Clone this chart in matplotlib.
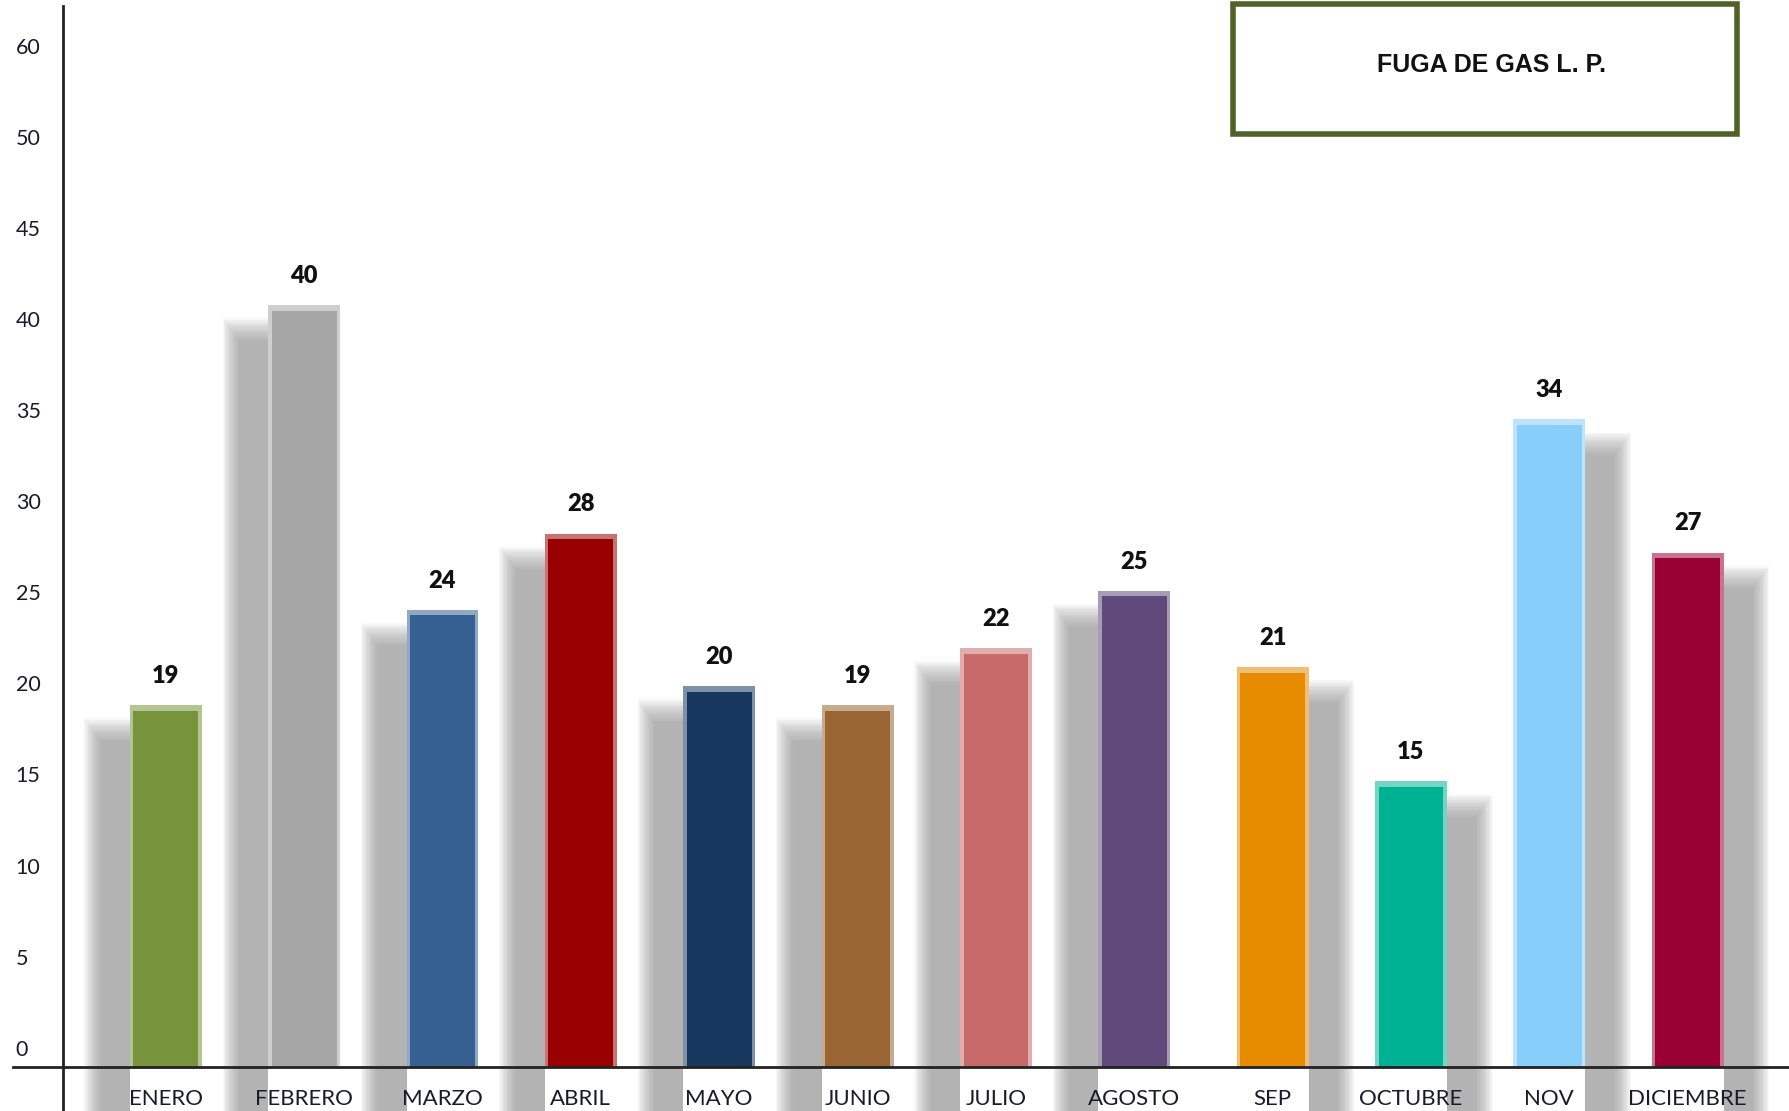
import numpy as np
import matplotlib
matplotlib.use("Agg")
import matplotlib.pyplot as plt
from matplotlib.lines import Line2D
from matplotlib.patches import Rectangle
from matplotlib.colors import to_rgb

# datos
meses = ["ENERO", "FEBRERO", "MARZO", "ABRIL", "MAYO", "JUNIO", "JULIO",
         "AGOSTO", "SEP", "OCTUBRE", "NOV", "DICIEMBRE"]
casos = [19, 40, 24, 28, 20, 19, 22, 25, 21, 15, 34, 27]
colores = ["#77933c", "#a6a6a6", "#366092", "#990000", "#17375e", "#996633",
           "#c96a6a", "#604a7b", "#e68a00", "#00b294", "#87cefa", "#990033"]
etiquetas_y = ["0", "5", "10", "15", "20", "25", "30", "35", "40", "45", "50", "60"]
titulo = "FUGA DE GAS L. P."

W, H = 1790, 1111
fig = plt.figure(figsize=(W / 100, H / 100), dpi=100)
fig.patch.set_facecolor("white")

# ejes: izquierda x=63px, linea base y=1067px, arriba y=6px
ax = fig.add_axes([63 / W, (H - 1067) / H, (W - 63) / W, (1067 - 6) / H])
ax.set_xlim(-0.743, 11.74)
ax.set_ylim(0, 930 / 16.7)
for s in ax.spines.values():
    s.set_visible(False)

x = np.arange(len(casos))
ancho = 0.52


def aclarar(c, f):
    r, g, b = to_rgb(c)
    return (r + (1 - r) * f, g + (1 - g) * f, b + (1 - b) * f)


# sombras (difuminadas con capas)
n_capas = 14
for i, v in enumerate(casos):
    izq = x[i] - ancho / 2
    if i < 8:
        sx0, sx1 = izq - 0.2, izq
    else:
        sx0, sx1 = izq + ancho, izq + ancho + 0.2
    sy0, sy1 = -3.0, v - 2.0
    for k in range(n_capas):
        ex = 0.13 * (n_capas - k) / n_capas
        ey = 1.3 * (n_capas - k) / n_capas
        if i < 8:
            rx, rw = sx0 - ex, (sx1 - sx0) + ex
        else:
            rx, rw = sx0, (sx1 - sx0) + ex
        r = Rectangle((rx, sy0), rw, (sy1 - sy0) + ey,
                      facecolor="#8a8a8a", alpha=0.065, edgecolor="none",
                      clip_on=False, zorder=1)
        ax.add_patch(r)

# barras
ax.bar(x, casos, width=ancho, color=colores, zorder=3, linewidth=0)
borde = 0.026
claros = [aclarar(c, 0.45) for c in colores]
ax.bar(x - ancho / 2 + borde / 2, casos, width=borde, color=claros, zorder=4, linewidth=0)
ax.bar(x + ancho / 2 - borde / 2, casos, width=borde, color=claros, zorder=4, linewidth=0)
ax.bar(x, [0.3] * len(casos), bottom=np.array(casos) - 0.3, width=ancho,
       color=claros, zorder=4, linewidth=0)

# etiquetas de datos
for i, v in enumerate(casos):
    ax.annotate(str(v), (x[i], v), xytext=(0, 21), textcoords="offset points",
                ha="center", va="center", fontsize=17, fontweight="heavy",
                family=["Lato", "DejaVu Sans"], color="#111111", zorder=6)

# eje x
ax.set_xticks(x)
ax.set_xticklabels(meses, fontsize=16, family=["Lato", "DejaVu Sans"], color="#1a1a2a")
ax.tick_params(axis="x", length=0, pad=16)
ax.set_yticks([])

# eje y con las etiquetas originales
ax2 = ax.twinx()
for s in ax2.spines.values():
    s.set_visible(False)
ax2.set_ylim(-17 / 15.96, (930 - 17) / 15.96)
ax2.yaxis.set_ticks_position("left")
ax2.set_yticks(np.arange(0, 60, 5))
ax2.set_yticklabels(etiquetas_y, fontsize=15.5, family=["Lato", "DejaVu Sans"],
                    color="#1a1a2a", ha="left")
ax2.tick_params(axis="y", length=0, pad=34)

# lineas de los ejes
fig.add_artist(Line2D([13 / W, 1], [(H - 1067) / H] * 2, color="#222222", lw=2, zorder=5))
fig.add_artist(Line2D([63 / W] * 2, [0, (H - 6) / H], color="#222222", lw=2, zorder=5))

# caja de titulo
caja = Rectangle((1233 / W, (H - 134) / H), (1737 - 1233) / W, (134 - 4) / H,
                 transform=fig.transFigure, facecolor="white", edgecolor="#4f6228",
                 linewidth=4, zorder=6)
fig.add_artist(caja)
fig.text(1492 / W, (H - 65) / H, titulo, ha="center", va="center", fontsize=18,
         fontweight="bold", family=["Liberation Sans", "DejaVu Sans"], color="#111111",
         zorder=7)

fig.savefig("out.png", dpi=100)
